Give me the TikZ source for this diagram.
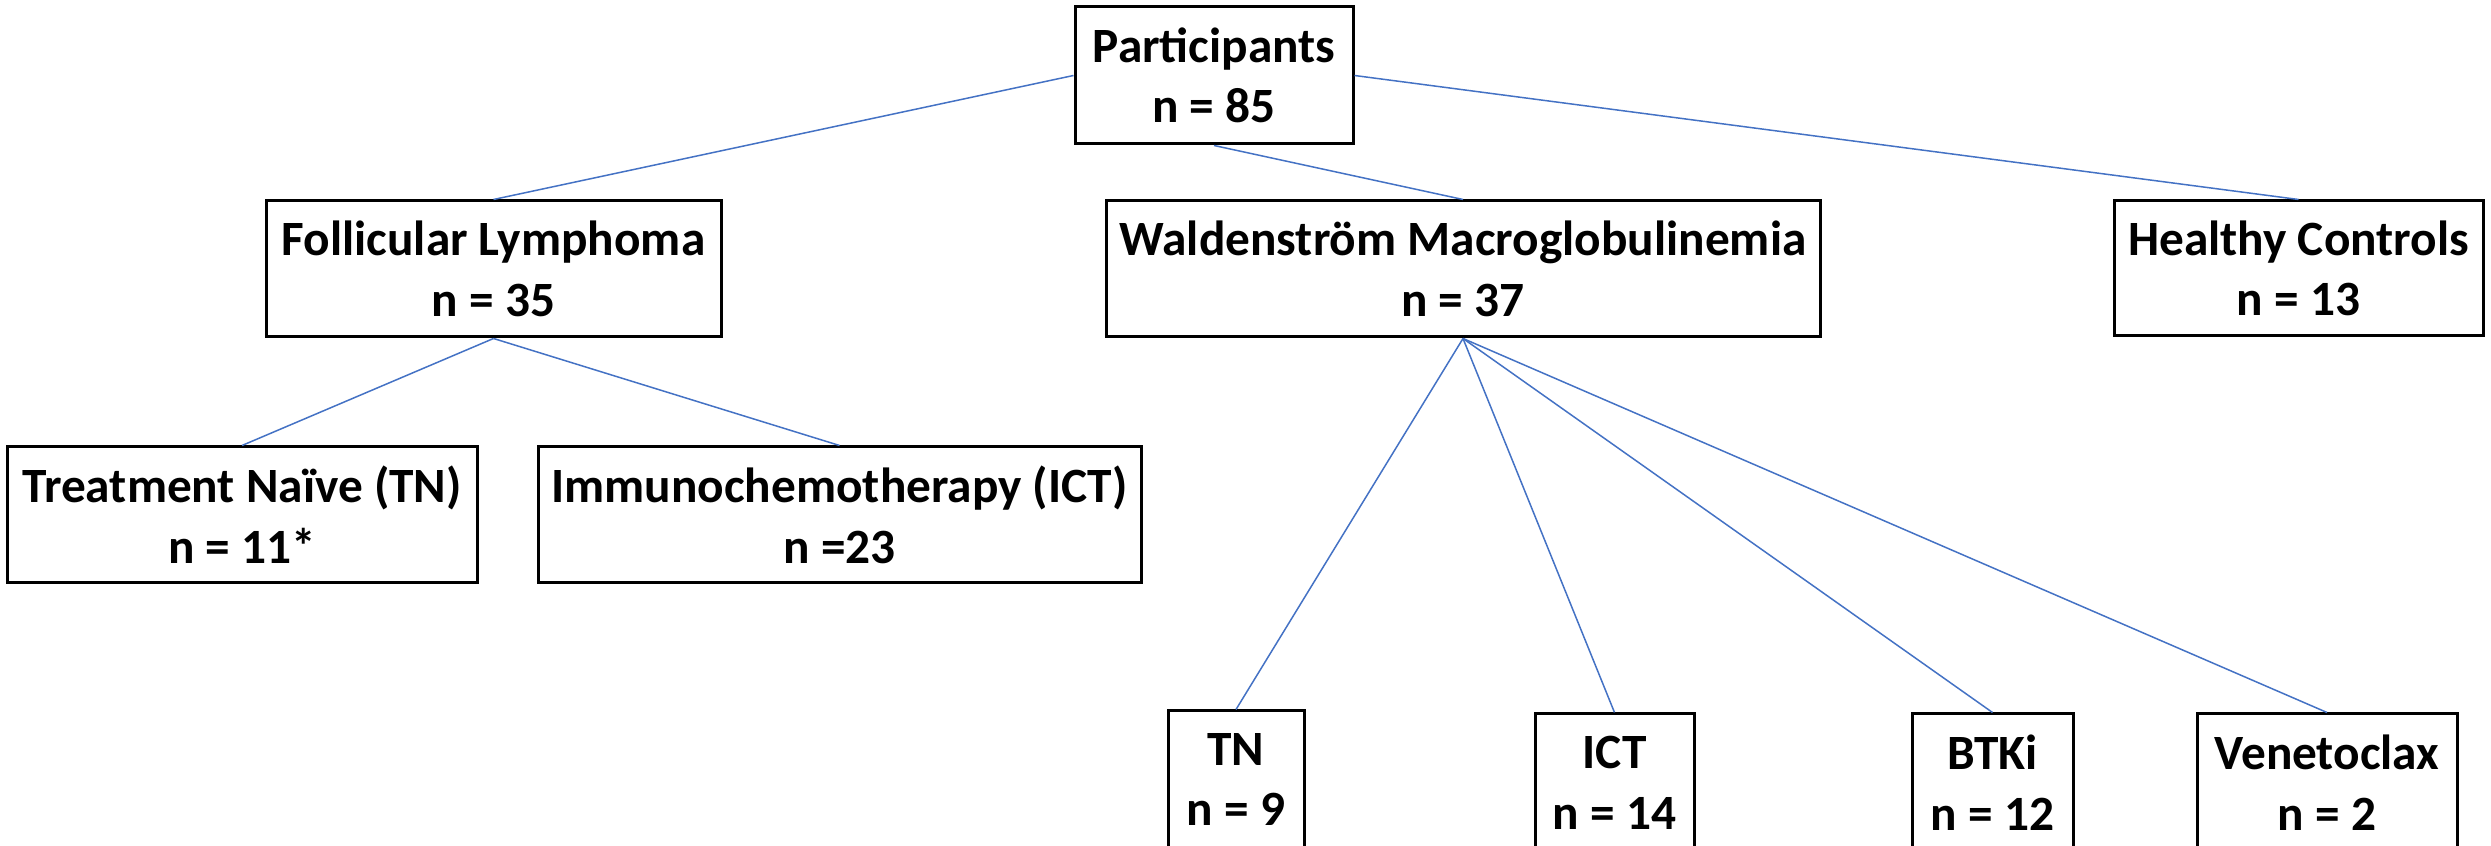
\documentclass[tikz,border=0pt]{standalone}
\usepackage{fontspec}
\setmainfont{Carlito}
\definecolor{linkblue}{HTML}{4472C4}
\begin{document}
\begin{tikzpicture}[x=0.3pt,y=-0.3pt,
  box/.style={draw=black, line width=0.9pt, fill=white, align=center, inner sep=0pt,
    font=\fontsize{14.8}{18.2}\selectfont\bfseries},
  link/.style={draw=linkblue, line width=0.45pt}]
\clip (0,0) rectangle (2491,846);
\node[box, minimum width=278*0.3pt, minimum height=137*0.3pt] (P) at (1214,75.5) {Participants\\n = 85};
\node[box, minimum width=455*0.3pt, minimum height=136*0.3pt] (FL) at (493.5,269) {Follicular Lymphoma\\n = 35};
\node[box, minimum width=714*0.3pt, minimum height=136*0.3pt] (WM) at (1463,269) {Waldenstr\"om Macroglobulinemia\\n = 37};
\node[box, minimum width=369*0.3pt, minimum height=135*0.3pt] (HC) at (2298.5,268.5) {Healthy Controls\\n = 13};
\node[box, minimum width=470*0.3pt, minimum height=136*0.3pt] (TN) at (242,515) {Treatment Na\"ive (TN)\\n = 11*};
\node[box, minimum width=603*0.3pt, minimum height=136*0.3pt] (ICT) at (839.5,515) {Immunochemotherapy (ICT)\\n =23};
\node[box, minimum width=136*0.3pt, minimum height=137*0.3pt] (TNw) at (1236,779.5) {TN\\n = 9};
\node[box, minimum width=159*0.3pt, minimum height=137*0.3pt] (ICTw) at (1614.5,782.5) {ICT\\n = 14};
\node[box, minimum width=161*0.3pt, minimum height=137*0.3pt] (BTK) at (1992.5,782.5) {BTKi\\n = 12};
\node[box, minimum width=260*0.3pt, minimum height=137*0.3pt] (VEN) at (2327,782.5) {Venetoclax\\n = 2};
\draw[link] (P.west) -- (FL.north);
\draw[link] (P.south) -- (WM.north);
\draw[link] (P.east) -- (HC.north);
\draw[link] (FL.south) -- (TN.north);
\draw[link] (FL.south) -- (ICT.north);
\draw[link] (WM.south) -- (TNw.north);
\draw[link] (WM.south) -- (ICTw.north);
\draw[link] (WM.south) -- (BTK.north);
\draw[link] (WM.south) -- (VEN.north);
\end{tikzpicture}
\end{document}
